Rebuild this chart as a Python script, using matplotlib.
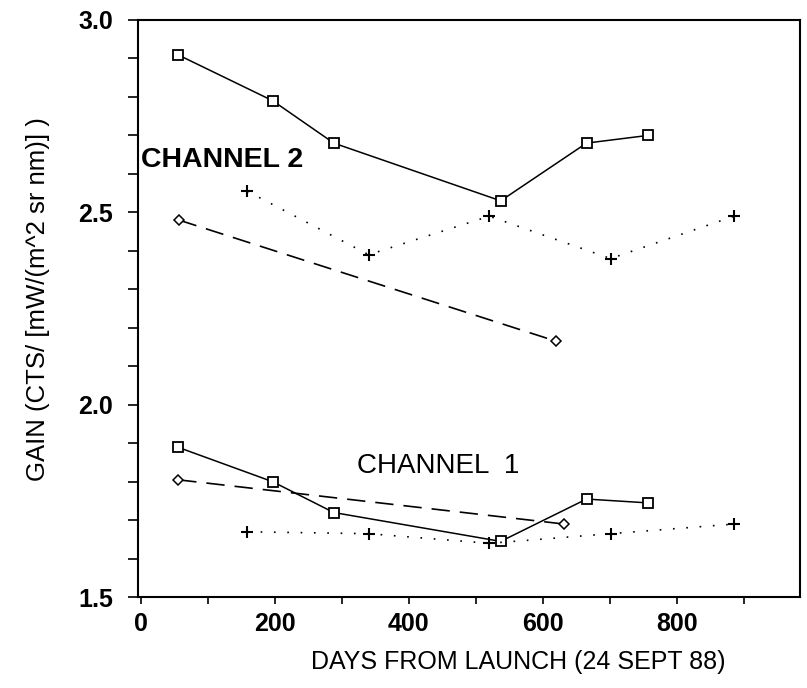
import numpy as np
import matplotlib.pyplot as plt
from matplotlib.ticker import MultipleLocator

plt.rcParams['font.family'] = ['Liberation Sans', 'DejaVu Sans']

# Measurement dates (days after launch)
days_sq = [55, 197, 288, 537, 665, 757]
days_plus = [159, 340, 520, 701, 885]
days_dia_ch2 = [57, 620]
days_dia_ch1 = [56, 632]

# Channel 2 gains
ch2_sq = [2.91, 2.79, 2.68, 2.53, 2.68, 2.70]
ch2_plus = [2.555, 2.39, 2.49, 2.38, 2.49]
ch2_dia = [2.48, 2.165]

# Channel 1 gains
ch1_sq = [1.89, 1.80, 1.72, 1.645, 1.755, 1.745]
ch1_plus = [1.67, 1.665, 1.64, 1.665, 1.69]
ch1_dia = [1.805, 1.69]

fig = plt.figure(figsize=(8.07, 6.88), dpi=100)
ax = fig.add_axes([0.171, 0.132, 0.820, 0.839])

sq_style = dict(color='black', lw=1.1, marker='s', markersize=7,
                markerfacecolor='white', markeredgewidth=1.3)
plus_style = dict(color='black', lw=1.2, linestyle=(0, (1, 7)), marker='+',
                  markersize=8, markeredgewidth=1.5)
dia_style = dict(color='black', lw=1.2, linestyle=(0, (11, 6)), marker='D',
                 markersize=5, markerfacecolor='white', markeredgewidth=1.1)

for days, gain in [(days_sq, ch2_sq), (days_sq, ch1_sq)]:
    ax.plot(days, gain, **sq_style)
for days, gain in [(days_plus, ch2_plus), (days_plus, ch1_plus)]:
    ax.plot(days, gain, **plus_style)
for days, gain in [(days_dia_ch2, ch2_dia), (days_dia_ch1, ch1_dia)]:
    ax.plot(days, gain, **dia_style)

ax.text(0, 2.637, 'CHANNEL 2', fontsize=20.5, fontweight='bold',
        ha='left', va='center')
ax.text(444, 1.84, 'CHANNEL  1', fontsize=20, ha='center', va='center')

ax.set_xlim(-4, 983)
ax.set_ylim(1.5, 3.0)
ax.set_xticks([0, 200, 400, 600, 800])
ax.set_xticklabels(['0', '200', '400', '600', '800'], fontweight='bold')
ax.xaxis.set_minor_locator(MultipleLocator(100))
ax.set_yticks([1.5, 2.0, 2.5, 3.0])
ax.set_yticklabels(['1.5', '2.0', '2.5', '3.0'], fontweight='bold')
ax.yaxis.set_minor_locator(MultipleLocator(0.1))

ax.tick_params(axis='both', which='both', direction='out', length=7,
               width=1.2, labelsize=18)
ax.tick_params(axis='x', which='both', length=5, pad=6)
ax.tick_params(axis='y', which='both', pad=11)
ax.tick_params(which='minor', labelbottom=False, labelleft=False)

for spine in ax.spines.values():
    spine.set_linewidth(1.5)

ax.set_xlabel('DAYS FROM LAUNCH (24 SEPT 88)', fontsize=18)
ax.set_ylabel('GAIN (CTS/ [mW/(m^2 sr nm)] )', fontsize=18.5)
ax.xaxis.set_label_coords(0.574, -0.092)
ax.yaxis.set_label_coords(-0.133, 0.516)

fig.savefig('out.png', dpi=100)
